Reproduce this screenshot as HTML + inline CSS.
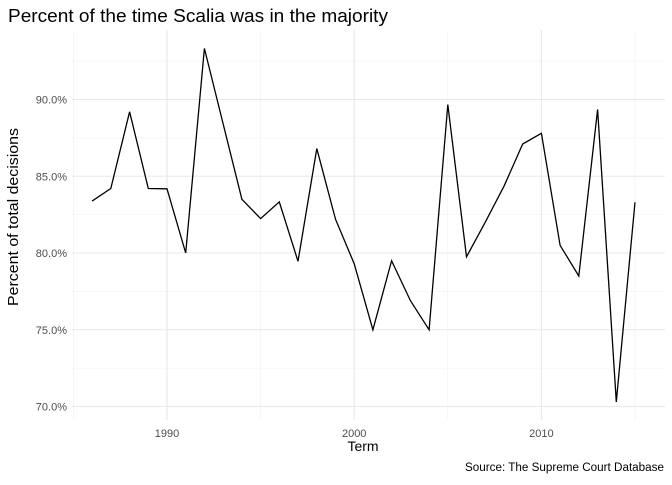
<!DOCTYPE html>
<html><head><meta charset="utf-8"><style>
body{margin:0;background:#fff;font-family:"Liberation Sans",sans-serif}
</style></head><body>
<svg id="chart" width="672" height="480" xmlns="http://www.w3.org/2000/svg" font-family="Liberation Sans, sans-serif">
<text x="8" y="22" font-size="18" textLength="380" lengthAdjust="spacingAndGlyphs" fill="#000">Percent of the time Scalia was in the majority</text>
<g id="grid"></g>
<g id="axes"></g>
<path id="line" fill="none" stroke="#000" stroke-width="1.3"/>
<text x="363" y="451" font-size="14" text-anchor="middle">Term</text>
<text transform="translate(18,217) rotate(-90)" font-size="14.5" text-anchor="middle" textLength="178" lengthAdjust="spacingAndGlyphs">Percent of total decisions</text>
<text x="664" y="471" font-size="11.5" text-anchor="end" textLength="199" lengthAdjust="spacingAndGlyphs">Source: The Supreme Court Database</text>
</svg>
<script>
const terms=[1986,1987,1988,1989,1990,1991,1992,1993,1994,1995,1996,1997,1998,1999,2000,2001,2002,2003,2004,2005,2006,2007,2008,2009,2010,2011,2012,2013,2014,2015];
const percents=[83.38,84.2,89.2,84.2,84.18,80.0,93.33,88.4,83.5,82.24,83.33,79.46,86.8,82.2,79.3,75.0,79.5,76.9,75.0,89.67,79.75,82.0,84.35,87.1,87.8,80.5,78.5,89.35,70.3,83.3];
const xTicks=[1990,2000,2010];
const xMinor=[1985,1995,2005,2015];
const yTicks=[70,75,80,85,90];
const yMinor=[72.5,77.5,82.5,87.5,92.5];
const yLabels=["70.0%","75.0%","80.0%","85.0%","90.0%"];
const X=v=>167+(v-1990)*18.72;
const Y=v=>99.5+(90-v)*15.35;
const L=72,R=665,T=30,B=420;
const ns="http://www.w3.org/2000/svg";
const grid=document.getElementById('grid'),axes=document.getElementById('axes');
function ln(x1,y1,x2,y2,w,c){const e=document.createElementNS(ns,'line');e.setAttribute('x1',x1);e.setAttribute('y1',y1);e.setAttribute('x2',x2);e.setAttribute('y2',y2);e.setAttribute('stroke',c);e.setAttribute('stroke-width',w);grid.appendChild(e);return e;}
yMinor.forEach(v=>{const e=ln(L,Y(v),R,Y(v),0.6,'#f0f0f0');

});
xMinor.forEach(v=>{const e=ln(X(v),T,X(v),B,0.6,'#f0f0f0');

});
yTicks.forEach((v,i)=>{const e=ln(L,Y(v),R,Y(v),1.1,'#e8e8e8');


const t=document.createElementNS(ns,'text');t.setAttribute('x',67);t.setAttribute('y',Y(v)+4);t.setAttribute('text-anchor','end');t.setAttribute('font-size','11');t.setAttribute('fill','#4d4d4d');t.textContent=yLabels[i];


axes.appendChild(t);});
xTicks.forEach(v=>{const e=ln(X(v),T,X(v),B,1.1,'#e8e8e8');


const t=document.createElementNS(ns,'text');t.setAttribute('x',X(v));t.setAttribute('y',437);t.setAttribute('text-anchor','middle');t.setAttribute('font-size','11');t.setAttribute('fill','#4d4d4d');t.textContent=v;


axes.appendChild(t);});
document.getElementById('line').setAttribute('d',terms.map((t,i)=>(i?'L':'M')+X(t).toFixed(1)+','+Y(percents[i]).toFixed(1)).join(''));
</script>
</body></html>
